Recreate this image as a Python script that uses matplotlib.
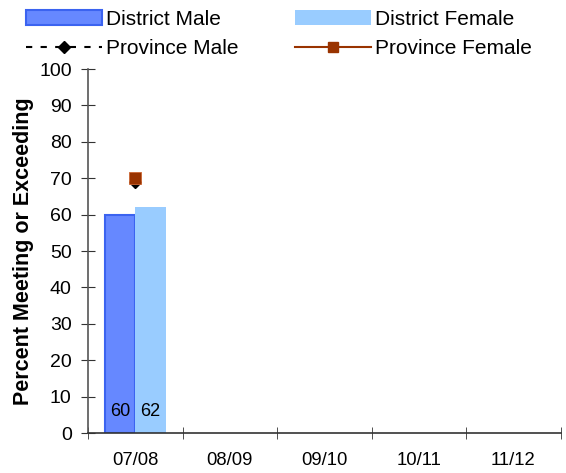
import numpy as np
import matplotlib
matplotlib.use('Agg')
import matplotlib.pyplot as plt
from matplotlib.lines import Line2D
from matplotlib.patches import Patch

plt.rcParams['font.family'] = ['Liberation Sans', 'DejaVu Sans']

# Data
years = ['07/08', '08/09', '09/10', '10/11', '11/12']
district_male = [60, None, None, None, None]
district_female = [62, None, None, None, None]
province_male = [69, None, None, None, None]
province_female = [70, None, None, None, None]

fig = plt.figure(figsize=(5.66, 4.73), dpi=100)
ax = fig.add_axes([0.1555, 0.0845, 0.835, 0.7695])

x = np.arange(len(years))
w = 0.32

for i in range(len(years)):
    if district_male[i] is not None:
        ax.bar(x[i] - w / 2, district_male[i], w, color='#6688FF',
               edgecolor='#3B63F0', linewidth=1.5, zorder=2)
        ax.text(x[i] - w / 2, 6, str(district_male[i]), ha='center', va='center',
                fontsize=13, zorder=4)
    if district_female[i] is not None:
        ax.bar(x[i] + w / 2, district_female[i], w, color='#99CCFF',
               edgecolor='none', zorder=2)
        ax.text(x[i] + w / 2, 6, str(district_female[i]), ha='center', va='center',
                fontsize=13, zorder=4)

pm = np.array([np.nan if v is None else v for v in province_male], dtype=float)
pf = np.array([np.nan if v is None else v for v in province_female], dtype=float)
ax.plot(x, pm, linestyle=(0, (3, 4)), color='black', marker='D', markersize=6,
        zorder=3)
ax.plot(x, pf, linestyle='-', color='#993300', marker='s', markersize=8.5,
        markeredgecolor='#CC6633', markeredgewidth=0.6, zorder=3)

ax.set_xlim(-0.5, len(years) - 0.5)
ax.set_ylim(0, 100)
ax.set_yticks(range(0, 101, 10))
ax.set_xticks(x)
ax.set_xticklabels(years, fontsize=13.3)
ax.set_xticks(np.arange(-0.5, len(years)), minor=True)
ax.tick_params(axis='x', which='major', length=0, pad=14)
ax.tick_params(axis='x', which='minor', direction='inout', length=9,
               color='#333333')
ax.tick_params(axis='y', direction='inout', length=9.5, labelsize=14,
               color='#333333', pad=7)
for s in ['top', 'right']:
    ax.spines[s].set_visible(False)
ax.spines['left'].set_color('#555555')
ax.spines['bottom'].set_color('#333333')
ax.spines['left'].set_linewidth(1.2)
ax.spines['bottom'].set_linewidth(1.2)

ax.set_ylabel('Percent Meeting or Exceeding', fontsize=15.5, fontweight='bold',
              labelpad=4)

handles = [
    Patch(facecolor='#6688FF', edgecolor='#3B63F0', linewidth=1.5),
    Patch(facecolor='#99CCFF', edgecolor='none'),
    Line2D([], [], linestyle=(0, (3, 4)), color='black', marker='D', markersize=6),
    Line2D([], [], linestyle='-', color='#993300', marker='s', markersize=7),
]
labels = ['District Male', 'District Female', 'Province Male', 'Province Female']
order = [0, 2, 1, 3]
fig.legend([handles[i] for i in order], [labels[i] for i in order], ncol=2,
           loc='upper left', bbox_to_anchor=(0.02, 1.01), frameon=False,
           fontsize=15, handlelength=3.65, handleheight=0.72, handletextpad=0.2,
           columnspacing=2.7, labelspacing=0.5, borderpad=0.2)

fig.savefig('out.png', dpi=100)
